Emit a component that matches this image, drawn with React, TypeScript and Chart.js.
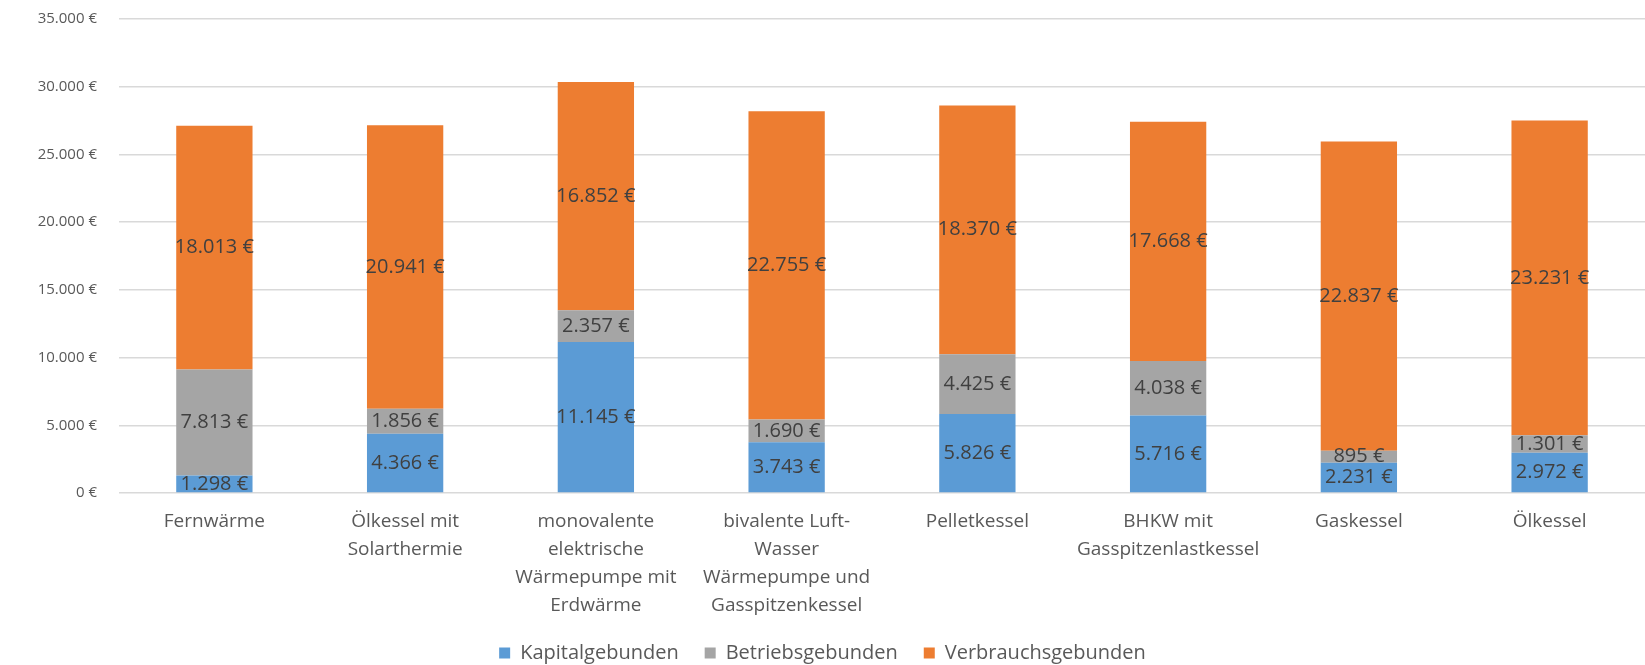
import React, { useEffect, useRef } from "react";
import { Chart, registerables } from "chart.js";

Chart.register(...registerables);

const categories: (string | string[])[] = [
  "Fernwärme",
  ["Ölkessel mit", "Solarthermie"],
  ["monovalente", "elektrische", "Wärmepumpe mit", "Erdwärme"],
  ["bivalente Luft-", "Wasser", "Wärmepumpe und", "Gasspitzenkessel"],
  "Pelletkessel",
  ["BHKW mit", "Gasspitzenlastkessel"],
  "Gaskessel",
  "Ölkessel",
];

const kapitalgebunden = [1298, 4366, 11145, 3743, 5826, 5716, 2231, 2972];
const betriebsgebunden = [7813, 1856, 2357, 1690, 4425, 4038, 895, 1301];
const verbrauchsgebunden = [18013, 20941, 16852, 22755, 18370, 17668, 22837, 23231];

const seriesNames = ["Kapitalgebunden", "Betriebsgebunden", "Verbrauchsgebunden"];

const Y_MAX = 35000;
const Y_STEP = 5000;

const FONT = "'Open Sans', sans-serif";

function fmt(n: number): string {
  const s = Math.round(n).toString();
  return s.replace(/\B(?=(\d{3})+(?!\d))/g, ".") + " €";
}

const dataLabelPlugin = {
  id: "dataLabels",
  afterDatasetsDraw(chart: any) {
    const ctx = chart.ctx;
    ctx.save();
    ctx.font = `20px ${FONT}`;
    ctx.fillStyle = "#404040";
    ctx.textAlign = "center";
    ctx.textBaseline = "middle";
    chart.data.datasets.forEach((ds: any, di: number) => {
      const meta = chart.getDatasetMeta(di);
      meta.data.forEach((el: any, i: number) => {
        const v = ds.data[i];
        const y = (el.y + el.base) / 2;
        ctx.fillText(fmt(v), el.x, y);
      });
    });
    ctx.restore();
  },
};

export default function App() {
  const ref = useRef<HTMLCanvasElement | null>(null);

  useEffect(() => {
    document.body.style.margin = "0";
    if (!ref.current) return;
    const chart = new Chart(ref.current, {
      type: "bar",
      data: {
        labels: categories,
        datasets: [
          { label: seriesNames[0], data: kapitalgebunden, backgroundColor: "#5B9BD5" },
          { label: seriesNames[1], data: betriebsgebunden, backgroundColor: "#A5A5A5" },
          { label: seriesNames[2], data: verbrauchsgebunden, backgroundColor: "#ED7D31" },
        ],
      },
      options: {
        animation: false,
        responsive: false,
        devicePixelRatio: 1,
        layout: { padding: { top: 19, left: 0, right: 0, bottom: 0 } },
        datasets: { bar: { categoryPercentage: 0.4, barPercentage: 1 } },
        plugins: {
          legend: {
            position: "bottom",
            maxHeight: 48,
            labels: {
              boxWidth: 11,
              boxHeight: 11,
              padding: 26,
              color: "#595959",
              font: { family: FONT, size: 20 },
            },
          },
          tooltip: { enabled: false },
        },
        scales: {
          x: {
            stacked: true,
            grid: { display: false },
            border: { display: false },
            ticks: {
              color: "#595959",
              font: { family: FONT, size: 19, lineHeight: 1.49 },
              padding: 6,
              maxRotation: 0,
              autoSkip: false,
            },
            afterFit(scale: any) {
              scale.height = 124;
            },
          },
          y: {
            stacked: true,
            min: 0,
            max: Y_MAX,
            ticks: {
              stepSize: Y_STEP,
              color: "#595959",
              font: { family: FONT, size: 15 },
              padding: 22,
              callback: (v: any) => fmt(Number(v)),
            },
            grid: { color: "#D9D9D9", lineWidth: 1.5, drawTicks: false },
            border: { display: false },
            afterFit(scale: any) {
              scale.width = 119;
              scale.paddingTop = 0;
              scale.paddingBottom = 0;
            },
          },
        },
      },
      plugins: [dataLabelPlugin],
    });
    return () => chart.destroy();
  }, []);

  return (
    <div style={{ width: 1645, height: 665, background: "#fff" }}>
      <canvas ref={ref} width={1645} height={665} style={{ display: "block" }} />
    </div>
  );
}
